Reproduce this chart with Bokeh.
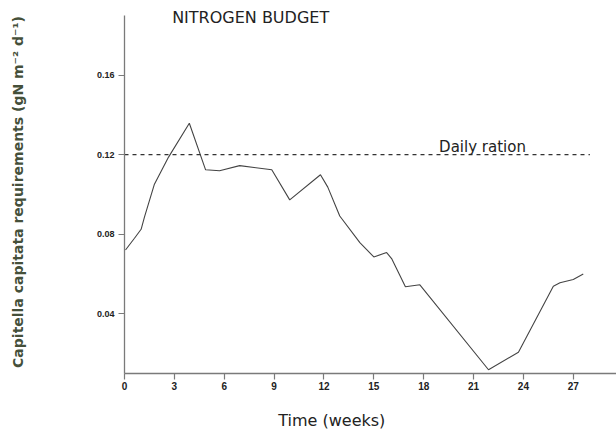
from bokeh.plotting import figure
from bokeh.layouts import column
from bokeh.models import Range1d, FixedTicker, Label
from bokeh.embed import file_html
from bokeh.resources import INLINE

# ---- data ----
weeks = [0.06, 0.6, 1.0, 1.2, 1.8, 2.65, 3.9, 4.88, 5.72, 6.93, 8.86, 9.94,
         11.79, 12.23, 12.95, 14.16, 15.0, 15.77, 16.07, 16.9, 17.77, 21.9,
         23.7, 25.8, 26.2, 27.0, 27.6]
requirement = [0.0721, 0.0780, 0.0825, 0.0886, 0.1052, 0.1188, 0.1358, 0.1124,
               0.1119, 0.1145, 0.1124, 0.0973, 0.1099, 0.1037, 0.0892, 0.0758,
               0.0686, 0.0708, 0.0678, 0.0536, 0.0546, 0.0119, 0.0207, 0.0539,
               0.0556, 0.0573, 0.0600]
daily_ration = 0.12
ration_weeks = [0, 28.0]
x_ticks = [0, 3, 6, 9, 12, 15, 18, 21, 24, 27]
y_ticks = [0.04, 0.08, 0.12, 0.16]
y_tick_labels = {0.04: "0.04", 0.08: "0.08", 0.12: "0.12", 0.16: "0.16"}
y_axis_bounds = (0.01, 0.19)

title_text = "NITROGEN BUDGET"
x_label = "Time (weeks)"
y_label = "Capitella capitata requirements (gN m\u207b\u00b2 d\u207b\u00b9)"
ration_label = "Daily ration"

x_range = Range1d(0, 29.6)

p = figure(width=616, height=398, output_backend="svg", toolbar_location=None,
           x_range=x_range, y_range=Range1d(0.01, 0.1925),
           min_border_left=124, min_border_right=0, min_border_top=10,
           min_border_bottom=25)
p.outline_line_color = None
p.background_fill_color = "white"
p.border_fill_color = "white"
p.xgrid.visible = False
p.ygrid.visible = False

AX = "#7a7a7a"
for ax in (p.xaxis[0], p.yaxis[0]):
    ax.axis_line_color = AX
    ax.axis_line_width = 1.3
    ax.major_tick_line_color = AX
    ax.major_tick_line_width = 1.2
    ax.major_tick_in = 0
    ax.major_tick_out = 6
    ax.minor_tick_line_color = None
    ax.major_label_text_font = "Liberation Sans"
    ax.major_label_text_font_style = "bold"
    ax.major_label_text_color = "#222222"

p.xaxis.ticker = FixedTicker(ticks=x_ticks)
p.xaxis.major_label_text_font_size = "10px"
p.xaxis.major_label_standoff = 2

p.yaxis.ticker = FixedTicker(ticks=y_ticks)
p.yaxis.bounds = y_axis_bounds
p.yaxis.major_label_overrides = y_tick_labels
p.yaxis.major_label_text_font_size = "9px"
p.yaxis.major_label_standoff = 4
p.yaxis.axis_label = y_label
p.yaxis.axis_label_text_font = "DejaVu Sans"
p.yaxis.axis_label_text_font_style = "bold"
p.yaxis.axis_label_text_font_size = "14px"
p.yaxis.axis_label_text_color = "#45503a"
p.yaxis.axis_label_standoff = 68

# requirement curve
p.line(weeks, requirement, line_color="#444444", line_width=1.1)

# daily ration dashed line
p.line(ration_weeks, [daily_ration] * len(ration_weeks), line_color="#333333",
       line_width=1.2, line_dash="4 4")

p.add_layout(Label(x=21.54, y=daily_ration + 0.0037, text=ration_label,
                   text_font="DejaVu Sans", text_font_size="15px",
                   text_color="#222222", text_align="center",
                   text_baseline="alphabetic"))

p.add_layout(Label(x=7.59, y=0.1892, text=title_text,
                   text_font="DejaVu Sans", text_font_size="16px",
                   text_color="#222222", text_align="center",
                   text_baseline="middle"))

# strip below the chart carrying the x-axis title
p2 = figure(width=616, height=31, output_backend="svg", toolbar_location=None,
            x_range=x_range, y_range=Range1d(0, 1),
            x_axis_location=None, y_axis_location=None,
            min_border_left=124, min_border_right=0, min_border_top=0,
            min_border_bottom=0)
p2.outline_line_color = None
p2.background_fill_color = "white"
p2.border_fill_color = "white"
p2.xgrid.visible = False
p2.ygrid.visible = False
p2.add_layout(Label(x=12.47, y=0.28, text=x_label,
                    text_font="DejaVu Sans", text_font_size="16px",
                    text_color="#222222", text_align="center",
                    text_baseline="alphabetic"))

layout = column(p, p2, spacing=0)
open("out.html", "w").write(file_html(layout, INLINE))
